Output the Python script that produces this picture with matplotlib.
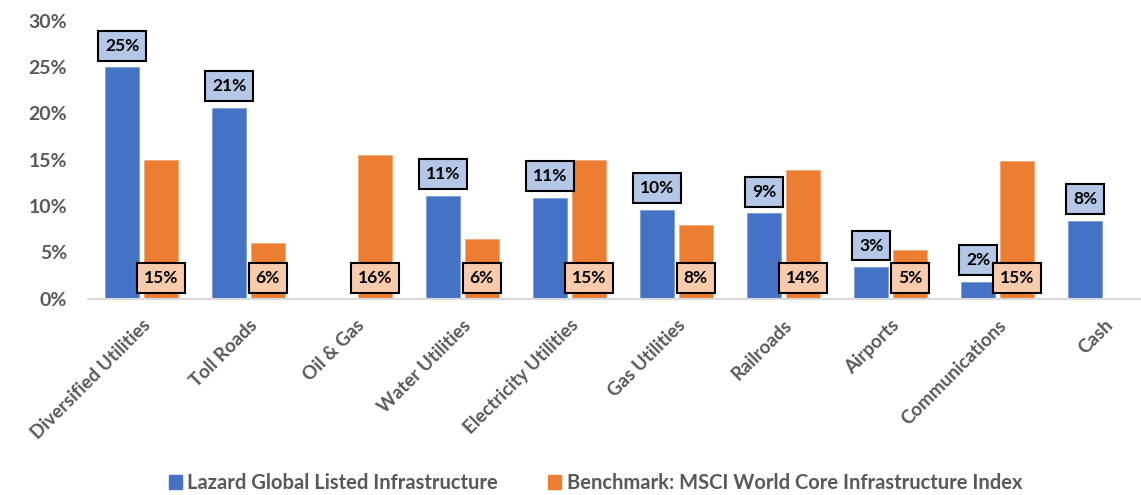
import matplotlib.pyplot as plt
import numpy as np
from matplotlib.patches import Patch
from matplotlib.ticker import PercentFormatter

plt.rcParams['font.family'] = ['Lato', 'DejaVu Sans']

# Sector weights (%)
sectors = ['Diversified Utilities', 'Toll Roads', 'Oil & Gas', 'Water Utilities',
           'Electricity Utilities', 'Gas Utilities', 'Railroads', 'Airports',
           'Communications', 'Cash']
lazard = [25.0, 20.6, np.nan, 11.1, 10.9, 9.6, 9.2, 3.4, 1.8, 8.4]
benchmark = [15.0, 6.0, 15.5, 6.4, 15.0, 7.9, 13.9, 5.2, 14.9, np.nan]
series_names = ['Lazard Global Listed Infrastructure',
                'Benchmark: MSCI World Core Infrastructure Index']

blue = '#4472c4'
orange = '#ed7d31'
grey = '#595959'

fig = plt.figure(figsize=(11.41, 4.95), dpi=100)
ax = fig.add_axes([88 / 1141, 1 - 298.5 / 495, 1053 / 1141, 277.5 / 495])

x = np.arange(len(sectors))
w = 0.32
off = 0.18
ax.bar(x - off, lazard, w, color=blue, edgecolor='#7f9fd8', linewidth=0.6)
ax.bar(x + off, benchmark, w, color=orange, edgecolor='#f3a878', linewidth=0.6)

# value boxes: Lazard above the bar, benchmark pinned near the baseline
box_kw = dict(ha='center', va='center', fontsize=12.5, fontweight='bold', color='black',
              textcoords='offset points')
for xi, v in zip(x, lazard):
    if np.isnan(v):
        continue
    ax.annotate(f'{v:.0f}%', (xi - off, v), xytext=(0, 15.5),
                bbox=dict(boxstyle='square,pad=0.4', fc='#b4c7e7', ec='black', lw=1.5),
                **box_kw)
for xi, v in zip(x, benchmark):
    if np.isnan(v):
        continue
    ax.annotate(f'{v:.0f}%', (xi + off, 0), xytext=(0, 14.8),
                bbox=dict(boxstyle='square,pad=0.4', fc='#f8cbad', ec='black', lw=1.5),
                **box_kw)

ax.set_xlim(-0.5, 9.34)
ax.set_ylim(0, 30)
ax.yaxis.set_major_formatter(PercentFormatter(decimals=0))
ax.set_yticks(np.arange(0, 31, 5))

for s in ['top', 'right', 'left']:
    ax.spines[s].set_visible(False)
ax.spines['bottom'].set_color('#d9d9d9')
ax.spines['bottom'].set_linewidth(1.5)

ax.tick_params(axis='y', length=0, pad=15, labelsize=14, labelcolor=grey)
for t in ax.get_yticklabels():
    t.set_fontweight('bold')

ax.set_xticks(x)
ax.set_xticklabels(sectors, rotation=45, ha='right', va='top', rotation_mode='anchor',
                   fontsize=13.5, fontweight='bold', color=grey)
ax.tick_params(axis='x', length=0, pad=13)

handles = [Patch(color=blue), Patch(color=orange)]
fig.legend(handles, series_names, loc='center', bbox_to_anchor=(0.522, 0.024), ncol=2,
           frameon=False, handlelength=0.65, handleheight=0.65,
           handletextpad=0.25, columnspacing=2.5, labelcolor=grey,
           prop={'weight': 'bold', 'size': 14.5})

fig.savefig('out.png', dpi=100)
